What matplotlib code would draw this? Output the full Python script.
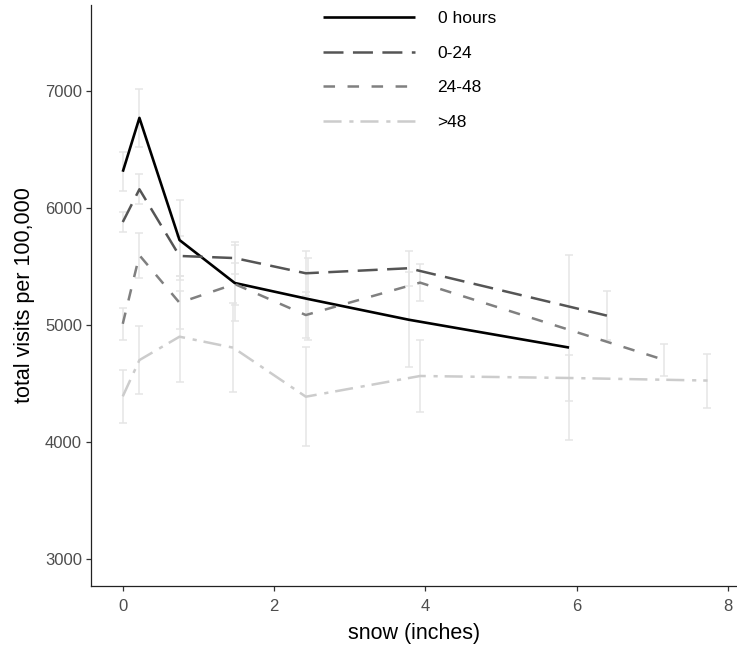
import numpy as np
import matplotlib
matplotlib.use("Agg")
from matplotlib import pyplot as plt

plt.rcParams['font.family'] = ['Liberation Sans', 'DejaVu Sans']
plt.rcParams['lines.scale_dashes'] = False

# =============================================================================
# Data
# =============================================================================

labels = ['0 hours', '0-24', '24-48', '>48']

snow_0 = [0.0, 0.22, 0.75, 1.48, 2.45, 3.78, 5.90]
visits_0 = [6310, 6770, 5726, 5359, 5222, 5045, 4807]
err_0 = [167, 250, 340, 328, 348, 406, 790]

snow_24 = [0.0, 0.22, 0.75, 1.48, 2.42, 3.78, 6.40]
visits_24 = [5880, 6160, 5590, 5572, 5442, 5485, 5080]
err_24 = [88, 128, 170, 137, 193, 150, 209]

snow_48 = [0.0, 0.22, 0.75, 1.48, 2.42, 3.93, 7.16]
visits_48 = [5010, 5596, 5190, 5350, 5085, 5362, 4701]
err_48 = [138, 192, 226, 180, 200, 160, 137]

snow_gt = [0.0, 0.22, 0.75, 1.46, 2.42, 3.93, 5.90, 7.73]
visits_gt = [4390, 4700, 4900, 4806, 4387, 4564, 4547, 4525]
err_gt = [228, 288, 390, 382, 425, 310, 200, 231]

# =============================================================================
# Plot
# =============================================================================

series = [(snow_0, visits_0, err_0), (snow_24, visits_24, err_24),
          (snow_48, visits_48, err_48), (snow_gt, visits_gt, err_gt)]
colours = ['#000000', '#555555', '#808080', '#cccccc']
widths = [1.9, 1.8, 1.8, 1.8]
# dash patterns in points (long dash, dash, dot-dash)
dashes = [None, (14.4, 6.8), (8.3, 9.0), (13.0, 5.6, 3.0, 5.0)]

fig = plt.figure(figsize=(7.37, 6.45), dpi=100)
ax = fig.add_axes([91/737, 1 - 586/645, 1 - 91/737, (586 - 5)/645])

# error bars first so the lines sit on top
for x, y, e in series:
    ax.errorbar(x, y, yerr=e, fmt='none', ecolor='#e5e5e5', elinewidth=1.1,
                capsize=2.8, capthick=1.1, zorder=1)

for (x, y, e), c, lw, d, lab in zip(series, colours, widths, dashes, labels):
    line, = ax.plot(x, y, color=c, lw=lw, label=lab, zorder=3,
                    solid_capstyle='butt', dash_capstyle='butt')
    if d is not None:
        line.set_dashes(d)

ax.set_xlim(-0.42, 8.12)
ax.set_ylim(2769, 7735)
ax.set_xticks([0, 2, 4, 6, 8])
ax.set_yticks([3000, 4000, 5000, 6000, 7000])

for side in ['top', 'right']:
    ax.spines[side].set_visible(False)
for side in ['left', 'bottom']:
    ax.spines[side].set_color('#222222')
    ax.spines[side].set_linewidth(0.9)

ax.tick_params(axis='both', length=3.5, width=0.9, color='#333333',
               labelsize=12, labelcolor='#4d4d4d')
ax.tick_params(axis='x', pad=6)
ax.tick_params(axis='y', pad=3)

ax.set_xlabel('snow (inches)', fontsize=15.5, color='black', labelpad=6)
ax.set_ylabel('total visits per 100,000', fontsize=15.5, color='black',
              labelpad=7)

ax.legend(loc='upper left', bbox_to_anchor=(323/737, 1 - 11/645),
          bbox_transform=fig.transFigure, frameon=False, fontsize=12.5,
          handlelength=5.3, handletextpad=1.3, labelspacing=1.12,
          borderpad=0, borderaxespad=0)

fig.savefig('out.png', dpi=100)
